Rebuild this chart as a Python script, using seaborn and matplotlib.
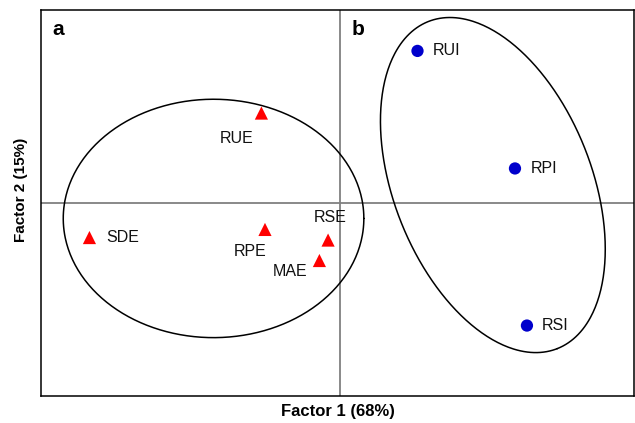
import numpy as np
import pandas as pd
import matplotlib
matplotlib.use("Agg")
import matplotlib.pyplot as plt
import seaborn as sns

# ---- data (factor scores) ----
efficiency_labels = ["RUE", "SDE", "RPE", "RSE", "MAE"]
efficiency_f1 = [-0.263, -0.838, -0.251, -0.040, -0.069]
efficiency_f2 = [0.466, -0.179, -0.137, -0.192, -0.298]

index_labels = ["RUI", "RPI", "RSI"]
index_f1 = [0.259, 0.585, 0.625]
index_f2 = [0.788, 0.179, -0.635]

# label offsets (points) relative to each marker
eff_offsets = {"RUE": (-18, -18, "center"), "SDE": (12, 0, "left"),
               "RPE": (-11, -16, "center"), "RSE": (1.5, 16, "center"),
               "MAE": (-21, -8, "center")}
idx_offsets = {"RUI": (11, 0, "left"), "RPI": (11.5, 0, "left"), "RSI": (11, 0, "left")}

sns.set_theme(style="white")
plt.rcParams["font.family"] = ["Liberation Sans", "DejaVu Sans"]

fig = plt.figure(figsize=(6.35, 4.23), dpi=100)
ax = fig.add_axes([41 / 635, 27 / 423, 593 / 635, 386 / 423])
ax.set_xlim(-1.0, 0.983)
ax.set_ylim(-1.0, 1.0)

ax.axvline(0, color="#808080", lw=1.3, zorder=1)
ax.axhline(0, color="#808080", lw=1.3, zorder=1)

df_e = pd.DataFrame({"f1": efficiency_f1, "f2": efficiency_f2, "lab": efficiency_labels})
df_i = pd.DataFrame({"f1": index_f1, "f2": index_f2, "lab": index_labels})

sns.scatterplot(data=df_e, x="f1", y="f2", marker="^", s=90, color="#ff0000",
                edgecolor="none", ax=ax, zorder=3)
sns.scatterplot(data=df_i, x="f1", y="f2", marker="o", s=78, color="#0000cc",
                edgecolor="none", ax=ax, zorder=3)

for _, r in df_e.iterrows():
    dx, dy, ha = eff_offsets[r.lab]
    ax.annotate(r.lab, (r.f1, r.f2), xytext=(dx, dy), textcoords="offset points",
                ha=ha, va="center", fontsize=11.5, color="#111111")
for _, r in df_i.iterrows():
    dx, dy, ha = idx_offsets[r.lab]
    ax.annotate(r.lab, (r.f1, r.f2), xytext=(dx, dy), textcoords="offset points",
                ha=ha, va="center", fontsize=11.5, color="#111111")


def draw_ellipse(ax, cx, cy, a_px, b_px, angle_deg):
    fig.canvas.draw()
    c = ax.transData.transform((cx, cy))
    t = np.linspace(0, 2 * np.pi, 400)
    th = np.deg2rad(angle_deg)
    ex = a_px * np.cos(t)
    ey = b_px * np.sin(t)
    px = c[0] + ex * np.cos(th) - ey * np.sin(th)
    py = c[1] + ex * np.sin(th) + ey * np.cos(th)
    d = ax.transData.inverted().transform(np.column_stack([px, py]))
    ax.plot(d[:, 0], d[:, 1], color="black", lw=1.1, zorder=2)


draw_ellipse(ax, -0.423, -0.080, 150.3, 119.2, 0)
draw_ellipse(ax, 0.511, 0.093, 175.8, 99.0, -68.5)

ax.text(0.020, 0.950, "a", transform=ax.transAxes, fontsize=15, fontweight="bold",
        ha="left", va="center", color="black")
ax.text(0.524, 0.950, "b", transform=ax.transAxes, fontsize=15, fontweight="bold",
        ha="left", va="center", color="black")

ax.set_xticks([])
ax.set_yticks([])
ax.set_xlabel("Factor 1 (68%)", fontsize=12, fontweight="bold", labelpad=6, color="black")
ax.set_ylabel("Factor 2 (15%)", fontsize=11, fontweight="bold", color="black")
ax.yaxis.set_label_coords(-0.022, 0.534)
for s in ax.spines.values():
    s.set_color("black")
    s.set_linewidth(1.1)
    s.set_visible(True)

fig.savefig("out.png", dpi=100, facecolor="white")
